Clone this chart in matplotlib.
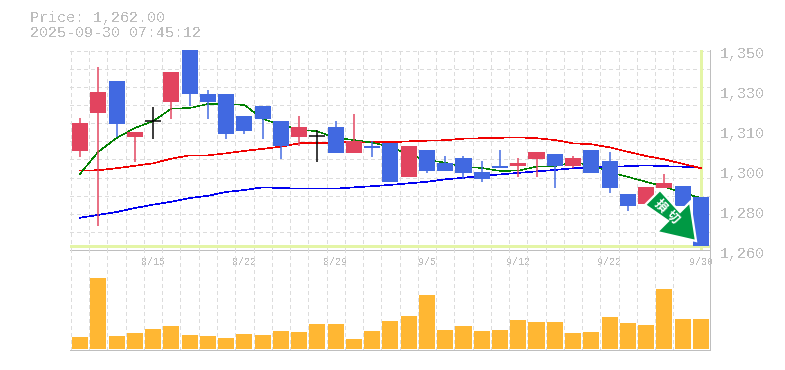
import matplotlib
matplotlib.use("Agg")
import matplotlib.pyplot as plt
from matplotlib.patches import Polygon
import numpy as np

plt.rcParams['font.family'] = ['Noto Sans CJK JP', 'DejaVu Sans']
plt.rcParams['text.antialiased'] = False

# candles, oldest first
opens = [1304.5, 1321.5, 1336, 1311, 1318, 1326.5, 1350, 1330, 1330, 1320.5, 1325, 1318,
         1311, 1311.5, 1315.5, 1303.5, 1307, 1308, 1293, 1305, 1299, 1301.5, 1295, 1298,
         1298, 1301, 1303, 1298, 1305, 1300, 1285, 1280.5, 1288, 1289, 1284]
highs = [1319.5, 1342.5, 1336, 1313, 1324.5, 1340, 1350, 1332, 1330, 1320.5, 1325, 1318,
         1320.5, 1314, 1318, 1321, 1309, 1308, 1307, 1305, 1302.5, 1302.5, 1300, 1305,
         1301.5, 1304, 1303, 1302.5, 1305, 1304, 1285, 1288.5, 1294, 1289, 1284]
lows = [1302, 1271, 1311, 1299.5, 1310, 1319, 1325, 1319, 1310, 1312, 1310, 1301,
        1307, 1299.5, 1303.5, 1303.5, 1302, 1290.5, 1293, 1294.5, 1295.5, 1292, 1290.5, 1297,
        1293, 1293, 1288, 1297, 1294.5, 1285.5, 1277.5, 1280.5, 1288, 1280, 1262]
closes = [1317, 1331, 1316.5, 1313, 1318, 1340, 1330, 1326.5, 1312, 1313.5, 1319, 1307,
          1315.5, 1311.5, 1303.5, 1309, 1306, 1290.5, 1307, 1295.5, 1295.5, 1294.5, 1292, 1297,
          1299, 1304, 1298, 1301.5, 1294.5, 1288, 1280, 1288.5, 1290, 1280, 1262]

ma_short = [1294.3, 1304.2, 1310.4, 1314.9, 1318, 1323.6, 1323.9, 1325.7, 1325.6, 1325.3, 1319, 1316.3,
            1314.2, 1313.4, 1310.4, 1309.5, 1308.3, 1306.5, 1302.8, 1300.5, 1299.3, 1297.5, 1296.9, 1295.6,
            1295.7, 1297.5, 1297.8, 1299.3, 1298.3, 1295.1, 1292.9, 1290.7, 1288.5, 1285.7, 1283.4]
ma_mid = [1295.7, 1295.9, 1296.8, 1297.9, 1299, 1301.1, 1302.6, 1302.6, 1303.5, 1304.6, 1305.5, 1306.5,
          1308, 1308.2, 1308.3, 1308.7, 1308.7, 1308.5, 1308.9, 1309.2, 1309.4, 1310.1, 1310.3, 1310.5,
          1310.7, 1310.3, 1309.5, 1308, 1307.6, 1306.2, 1304.2, 1302.3, 1300.8, 1298.8, 1296.8]
ma_long = [1274.5, 1275.8, 1277.1, 1278.9, 1280.4, 1281.7, 1283.4, 1284.4, 1286.1, 1287, 1288.2, 1287.9,
           1287.6, 1287.6, 1287.6, 1288.2, 1288.7, 1289.3, 1290, 1290.7, 1291.8, 1292.5, 1293.4, 1294,
           1294.7, 1295.4, 1296, 1296.8, 1297.2, 1297.5, 1297.7, 1298.1, 1297.7, 1297.5, 1297]

volume = [12, 71, 13, 16, 20, 23, 14, 13, 11, 15, 14, 18,
          17, 25, 25, 10, 18, 28, 33, 54, 19, 23, 18, 19,
          29, 27, 27, 16, 17, 32, 26, 24, 60, 30, 30]

date_pos = [4, 9, 14, 19, 24, 29, 34]
date_labels = ['8/15', '8/22', '8/29', '9/5', '9/12', '9/22', '9/30']
price_ticks = [1350, 1332, 1314, 1296, 1278, 1260]
price_labels = ['1,350', '1,330', '1,310', '1,300', '1,280', '1,260']

RED = '#E2445F'
BLUE = '#4169E1'
ORANGE = '#FFB733'
GRID = '#DCDCDC'
FRAME = '#BEBEBE'
TEXT = '#BDBDBD'
MARK = '#E4F5A6'
MONO = 'Liberation Mono'
PX = 0.72  # one pixel in points at dpi 100

fig = plt.figure(figsize=(7.85, 3.7), dpi=100)
ax = fig.add_axes([70 / 785, (370 - 250) / 370, 640 / 785, 200 / 370])
vax = fig.add_axes([70 / 785, (370 - 350) / 370, 640 / 785, 100 / 370])

x = np.arange(len(closes))
x_left, x_right = -0.55, 34.5

for i in x:
    o, h, l, c = opens[i], highs[i], lows[i], closes[i]
    if o == c:
        col = 'black'
    elif c > o:
        col = RED
    else:
        col = BLUE
    ax.plot([i, i], [l, h], color=col, lw=1.5 * PX, solid_capstyle='butt', zorder=4)
    if o == c:
        ax.plot([i - 0.44, i + 0.44], [o, o], color=col, lw=1.5 * PX, solid_capstyle='butt', zorder=4)
    else:
        ax.bar(i, abs(c - o), bottom=min(o, c), width=0.88, color=col, linewidth=0, zorder=4)

ax.plot(x, ma_long, color='#0000F0', lw=0.45, antialiased=False, zorder=3)
ax.plot(x, ma_mid, color='#F00000', lw=0.45, antialiased=False, zorder=3)
ax.plot(x, ma_short, color='#008000', lw=0.35, antialiased=False, zorder=3)

# marker for the latest price
ax.axhline(closes[-1], color=MARK, lw=3 * PX, zorder=2)
ax.axvline(x[-1], color=MARK, lw=3 * PX, zorder=2)

ax.set_xlim(x_left, x_right)
ax.set_ylim(1260, 1350)
ax.set_yticks(np.arange(1260, 1351, 8.15))
ax.set_xticks(np.arange(0.5, 34, 1) - 1)
ax.grid(True, color=GRID, linestyle=(0, (3, 3)), linewidth=PX, antialiased=False)
ax.set_axisbelow(True)
ax.tick_params(length=0, labelleft=False, labelbottom=False)

vax.bar(x, volume, width=0.88, color=ORANGE, linewidth=0, zorder=3)
vax.set_xlim(x_left, x_right)
vax.set_ylim(-0.7, 99)
vax.set_yticks([])
vax.set_xticks(np.arange(0.5, 34, 1) - 1)
vax.grid(True, axis='x', color=GRID, linestyle=(0, (3, 3)), linewidth=PX, antialiased=False)
vax.set_axisbelow(True)
vax.tick_params(length=0, labelleft=False, labelbottom=False)

for a in (ax, vax):
    a.patch.set_alpha(0)
    a.spines['left'].set_visible(False)
    a.spines['top'].set_visible(False)
    a.spines['right'].set_color(FRAME)
    a.spines['bottom'].set_color(FRAME)
    a.spines['right'].set_linewidth(PX)
    a.spines['bottom'].set_linewidth(PX)

for pos, lab in zip(date_pos, date_labels):
    ax.annotate(lab, xy=(pos, 0), xycoords=('data', 'axes fraction'), xytext=(0, -12),
                textcoords='offset pixels', ha='center', va='center',
                family=MONO, fontsize=7.2, color=TEXT, annotation_clip=False)

for t, lab in zip(price_ticks, price_labels):
    ax.annotate(lab, xy=(1, t), xycoords=('axes fraction', 'data'), xytext=(10, -4),
                textcoords='offset pixels', ha='left', va='center',
                family=MONO, fontsize=10.8, color=TEXT, annotation_clip=False)

# overlay in picture pixels: header text and the sell arrow
top = fig.add_axes([0, 0, 1, 1], zorder=10)
top.set_xlim(0, 785)
top.set_ylim(370, 0)
top.axis('off')
top.text(30, 18, 'Price: 1,262.00', family=MONO, fontsize=10.8, color=TEXT, va='center')
top.text(30, 33, '2025-09-30 07:45:12', family=MONO, fontsize=10.8, color=TEXT, va='center')

arrow_px = [(660, 190), (680, 212), (690, 202), (696, 241), (657, 232), (668, 221), (645, 205)]
top.add_patch(Polygon(arrow_px, closed=True, facecolor='#009944', edgecolor='white', lw=1.6, joinstyle='miter'))
top.text(660.5, 206, '損', color='white', fontsize=9, fontweight='bold', rotation=-45,
         ha='center', va='center', antialiased=True)
top.text(672.5, 217, '切', color='white', fontsize=9, fontweight='bold', rotation=-45,
         ha='center', va='center', antialiased=True)

fig.savefig('out.png', dpi=100)
